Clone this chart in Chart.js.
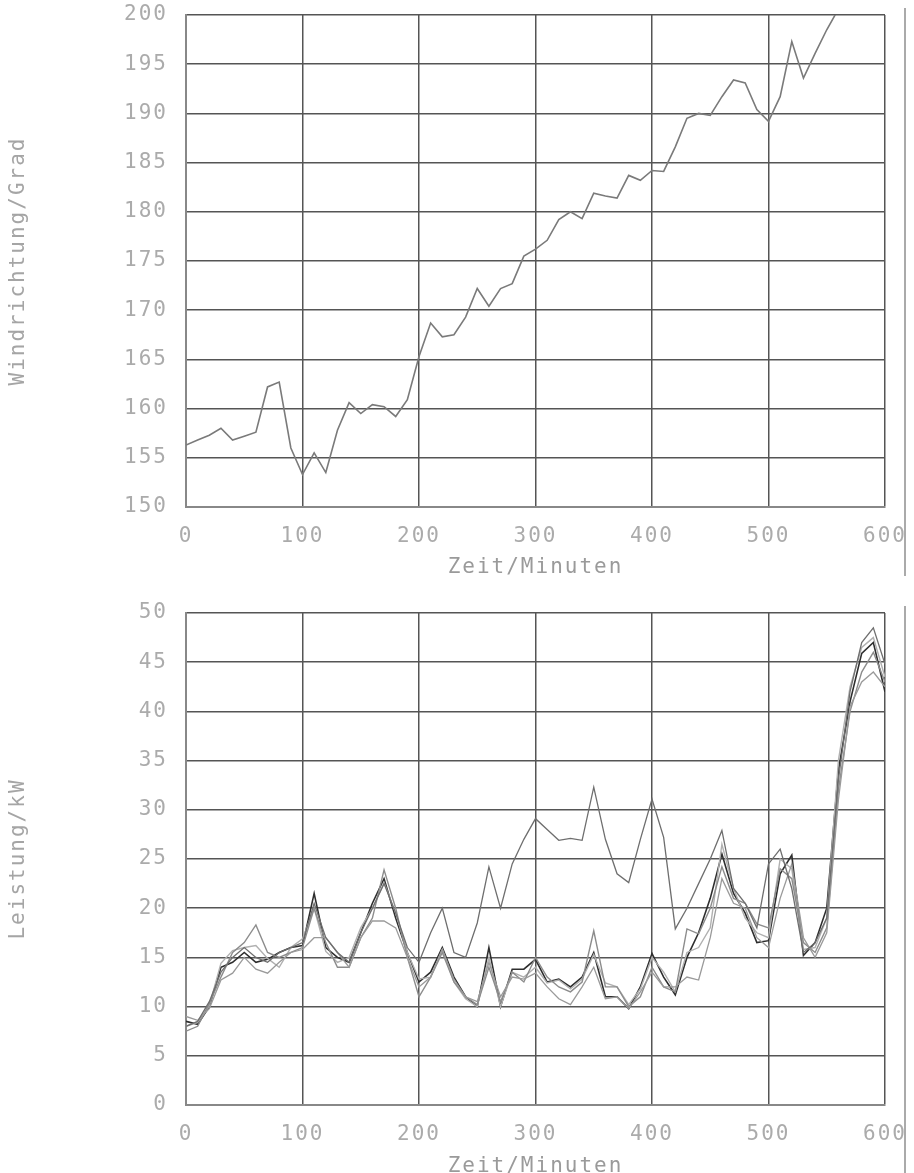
<!DOCTYPE html>
<html>
<head>
<meta charset="utf-8">
<script src="https://cdn.jsdelivr.net/npm/chart.js@4.4.1/dist/chart.umd.min.js"></script>
<style>
  body { margin: 0; background: #fff; width: 914px; height: 1173px; position: relative; overflow: hidden; }
  canvas { position: absolute; left: 0; }
  .rand { position: absolute; left: 904px; width: 0; border-left: 2px solid #aaa; }
</style>
</head>
<body>
<canvas id="oben" width="914" height="580" style="top:0"></canvas>
<canvas id="unten" width="914" height="590" style="top:598px"></canvas>
<div class="rand" style="top:8px;height:568px"></div>
<div class="rand" style="top:606px;height:567px"></div>
<script>
// Zeitachse in Minuten
const zeitWind = [0, 10, 20, 30, 40, 50, 60, 70, 80, 90, 100, 110, 120, 130, 140, 150, 160, 170, 180, 190,
  200, 210, 220, 230, 240, 250, 260, 270, 280, 290, 300, 310, 320, 330, 340, 350, 360, 370, 380, 390,
  400, 410, 420, 430, 440, 450, 460, 470, 480, 490, 500, 510, 520, 530, 540, 550, 560];
const zeit = [0, 10, 20, 30, 40, 50, 60, 70, 80, 90, 100, 110, 120, 130, 140, 150, 160, 170, 180, 190,
  200, 210, 220, 230, 240, 250, 260, 270, 280, 290, 300, 310, 320, 330, 340, 350, 360, 370, 380, 390,
  400, 410, 420, 430, 440, 450, 460, 470, 480, 490, 500, 510, 520, 530, 540, 550, 560, 570, 580, 590, 600];

// Windrichtung in Grad
const windrichtung = [156.3, 156.8, 157.3, 158.0, 156.8, 157.2, 157.6, 162.2, 162.7, 156.0,
  153.3, 155.5, 153.5, 157.8, 160.6, 159.5, 160.4, 160.2, 159.2, 160.9,
  165.3, 168.7, 167.3, 167.5, 169.3, 172.2, 170.4, 172.2, 172.7, 175.5,
  176.2, 177.1, 179.2, 180.0, 179.3, 181.9, 181.6, 181.4, 183.7, 183.2,
  184.2, 184.1, 186.6, 189.5, 190.0, 189.8, 191.7, 193.4, 193.1, 190.4,
  189.2, 191.7, 197.3, 193.6, 196.1, 198.5, 200.6];

// Leistung in kW (fuenf Kurven)
const leistungA = [8.0, 8.5, 10.5, 13.5, 15.0, 16.0, 15.0, 14.5, 15.5, 16.0,
  16.5, 20.5, 17.0, 15.5, 14.5, 17.5, 20.0, 22.5, 19.5, 16.0,
  14.5, 17.5, 20.0, 15.5, 15.0, 18.5, 24.2, 20.0, 24.5, 27.0,
  29.1, 28.0, 26.9, 27.1, 26.9, 32.3, 27.0, 23.5, 22.6, 27.0,
  31.1, 27.2, 17.9, 20.0, 22.5, 25.0, 27.9, 22.0, 20.5, 18.0,
  24.5, 26.0, 22.0, 15.5, 16.5, 19.0, 33.0, 42.0, 47.0, 48.5, 44.8];
const leistungB = [8.5, 8.2, 10.0, 14.0, 14.5, 15.5, 14.5, 14.8, 15.5, 16.0,
  16.2, 21.5, 16.0, 15.0, 14.5, 17.5, 20.5, 23.0, 19.0, 15.5,
  12.5, 13.5, 16.0, 13.0, 11.0, 10.0, 16.0, 10.0, 13.8, 13.8,
  14.8, 12.5, 12.8, 12.0, 13.0, 15.5, 11.0, 11.0, 9.8, 12.0,
  15.4, 13.0, 11.2, 15.0, 17.5, 21.0, 25.5, 21.5, 19.5, 16.5,
  16.7, 23.5, 25.4, 15.2, 16.5, 20.0, 34.0, 41.0, 45.9, 47.0, 42.0];
const leistungC = [7.5, 8.0, 10.3, 13.0, 15.5, 16.5, 18.3, 15.5, 15.0, 15.5,
  16.0, 20.0, 16.5, 14.0, 14.0, 17.0, 19.0, 23.9, 20.0, 15.0,
  11.0, 13.0, 15.5, 12.5, 11.0, 10.2, 14.0, 10.5, 13.5, 12.5,
  15.0, 13.0, 12.0, 11.5, 12.5, 17.7, 12.0, 12.0, 10.0, 11.0,
  14.0, 12.0, 11.5, 17.9, 17.4, 20.0, 24.2, 21.0, 20.5, 18.4,
  18.0, 24.0, 23.0, 16.5, 15.5, 18.0, 32.0, 40.0, 44.0, 46.0, 43.0];
const leistungD = [9.0, 8.6, 9.8, 12.7, 13.4, 15.0, 13.8, 13.4, 14.5, 15.5,
  15.8, 17.0, 17.0, 15.5, 14.0, 17.0, 18.7, 18.7, 18.0, 15.0,
  12.0, 13.0, 15.8, 12.8, 11.0, 10.5, 14.5, 11.0, 13.0, 12.8,
  13.4, 12.0, 10.8, 10.2, 12.0, 14.0, 10.8, 11.0, 9.8, 11.5,
  13.5, 12.0, 12.0, 13.0, 12.7, 17.0, 23.0, 20.5, 20.0, 17.0,
  16.0, 21.0, 24.5, 17.0, 15.0, 17.5, 31.0, 40.5, 43.0, 44.0, 42.5];
const leistungE = [8.0, 8.4, 10.1, 14.4, 15.7, 16.0, 16.2, 14.9, 14.0, 16.0,
  16.9, 20.0, 15.6, 14.5, 15.0, 18.0, 20.0, 22.6, 19.5, 15.5,
  12.8, 13.0, 15.8, 12.5, 10.8, 10.0, 15.0, 10.0, 13.5, 13.0,
  14.0, 12.4, 12.7, 11.8, 12.8, 15.3, 12.4, 12.0, 10.2, 11.8,
  15.0, 13.5, 11.5, 15.5, 16.0, 18.0, 26.5, 22.0, 19.0, 17.5,
  17.0, 25.0, 24.0, 15.8, 16.0, 19.0, 35.0, 42.5, 46.5, 47.5, 43.5];

const xTicks = [0, 100, 200, 300, 400, 500, 600];

const schrift = { family: 'DejaVu Sans Mono', size: 21 };
const textFarbe = '#ababab';

const sperrung = {
  id: 'sperrung',
  beforeDraw(chart) { chart.ctx.letterSpacing = '2px'; }
};

function punkte(xs, ys) {
  return xs.map((x, i) => ({ x: x, y: ys[i] }));
}

function optionen(yMin, yMax, yTitel, xHoehe, titelAbstand) {
  return {
    responsive: false,
    animation: false,
    layout: { padding: { top: 15, right: 29, left: 0, bottom: 0 } },
    plugins: { legend: { display: false }, tooltip: { enabled: false } },
    elements: { point: { radius: 0 }, line: { tension: 0 } },
    scales: {
      x: {
        type: 'linear', min: 0, max: 600,
        afterBuildTicks: s => { s.ticks = xTicks.map(v => ({ value: v })); },
        afterFit: s => { s.height = xHoehe; s.paddingLeft = 0; s.paddingRight = 0; },
        grid: { color: '#555', lineWidth: 1.5, drawTicks: false },
        border: { color: '#888', width: 2 },
        ticks: { color: textFarbe, font: schrift, padding: 17, maxRotation: 0 },
        title: { display: true, text: 'Zeit/Minuten', color: '#9a9a9a', font: schrift, padding: { top: 0, bottom: titelAbstand } }
      },
      y: {
        min: yMin, max: yMax,
        afterFit: s => { s.width = 186; s.paddingTop = 0; s.paddingBottom = 0; },
        grid: { color: '#555', lineWidth: 1.5, drawTicks: false },
        border: { color: '#888', width: 2 },
        ticks: { color: textFarbe, font: schrift, padding: 18, stepSize: 5 },
        title: { display: true, text: yTitel, color: '#a5a5a5', font: schrift, padding: { top: 6, bottom: 0 } }
      }
    }
  };
}

new Chart(document.getElementById('oben'), {
  type: 'line',
  data: {
    datasets: [
      { data: punkte(zeitWind, windrichtung), borderColor: '#7a7a7a', borderWidth: 1.6, fill: false }
    ]
  },
  options: optionen(150, 200, 'Windrichtung/Grad', 73, 0),
  plugins: [sperrung]
});

const kurven = [
  { werte: leistungA, farbe: '#6e6e6e', breite: 1.3 },
  { werte: leistungD, farbe: '#9a9a9a', breite: 1.3 },
  { werte: leistungC, farbe: '#8c8c8c', breite: 1.4 },
  { werte: leistungE, farbe: '#b0b0b0', breite: 1.4 },
  { werte: leistungB, farbe: '#2e2e2e', breite: 1.6 }
];

new Chart(document.getElementById('unten'), {
  type: 'line',
  data: {
    datasets: kurven.map(k => ({
      data: punkte(zeit, k.werte), borderColor: k.farbe, borderWidth: k.breite, fill: false
    }))
  },
  options: optionen(0, 50, 'Leistung/kW', 83, 9),
  plugins: [sperrung]
});
</script>
</body>
</html>
